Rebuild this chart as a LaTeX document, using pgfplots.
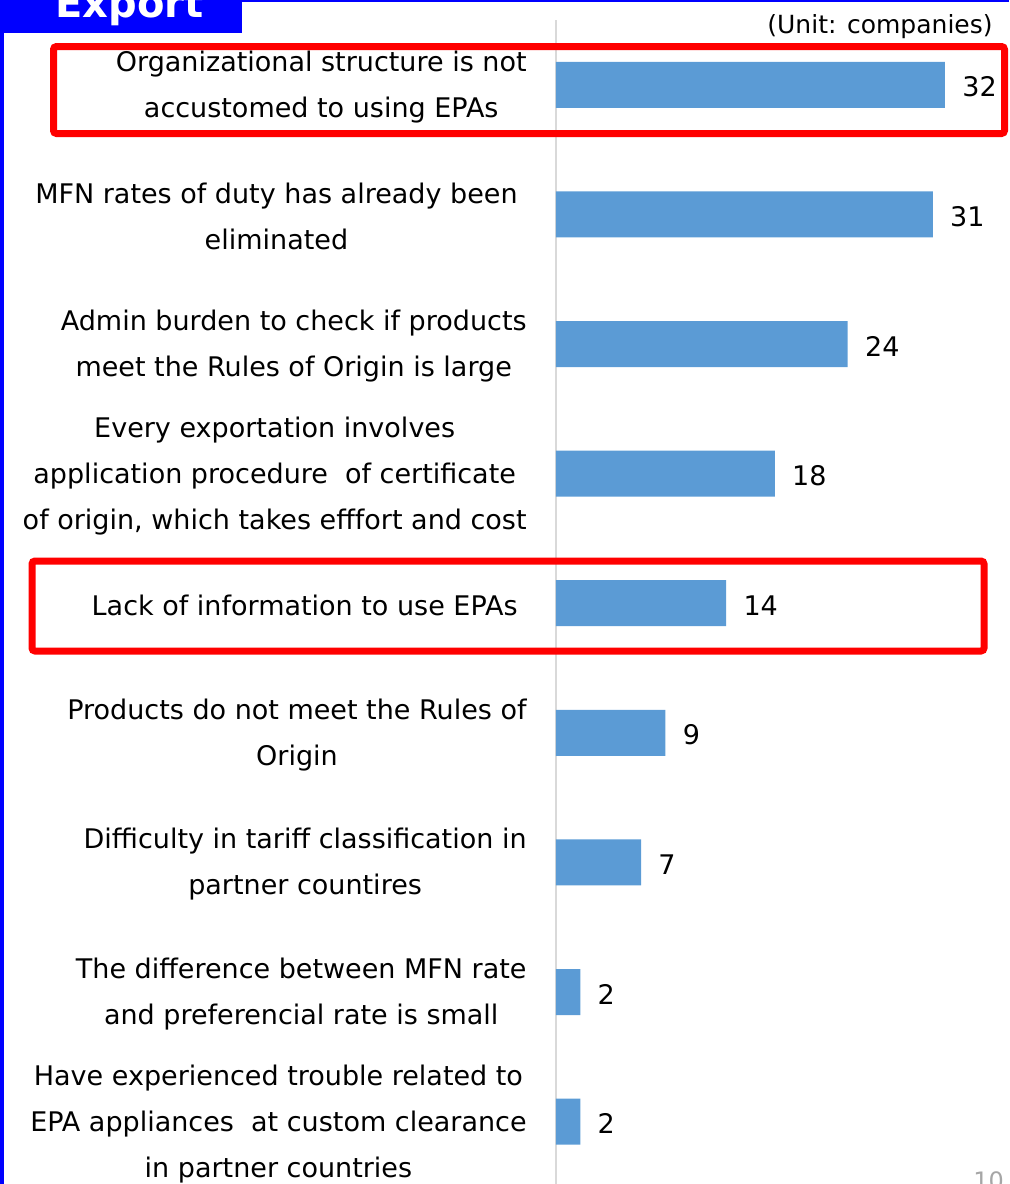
\documentclass[border=0pt]{standalone}
\usepackage{fontspec}
\setmainfont{DejaVu Sans}
\usepackage{pgfplots}
\pgfplotsset{compat=1.18}
\definecolor{barblue}{HTML}{5B9BD5}
\definecolor{axgray}{HTML}{D9D9D9}
\definecolor{slideblue}{HTML}{0000FF}
\definecolor{boxred}{HTML}{FF0000}
\begin{document}
\begin{tikzpicture}
\path[use as bounding box] (0,0) rectangle (504.5pt,-592pt);
\begin{axis}[
  at={(278pt,-10pt)}, anchor=north west,
  scale only axis, width=226.5pt, height=583.2pt,
  xbar, bar width=23pt,
  xmin=0, xmax=37.27, ymin=-0.5, ymax=8.5, y dir=reverse,
  axis lines*=left,
  x axis line style={draw=none},
  y axis line style={axgray, line width=1pt},
  xtick=\empty,
  ytick={0,1,2,3,4,5,6,7,8},
  major tick length=0pt,
  yticklabels={
    {Organizational structure is not\\accustomed to using EPAs},
    {MFN rates of duty has already been\hspace*{4.5pt}\\eliminated\hspace*{4.5pt}},
    {Admin burden to check if products\\meet the Rules of Origin is large},
    {Every exportation involves\\application procedure \ of certificate\\of origin, which takes efffort and cost},
    {Lack of information to use EPAs\hspace*{4.5pt}},
    {Products do not meet the Rules of\\Origin},
    {Difficulty in tariff classification in\\partner countires},
    {The difference between MFN rate\\and preferencial rate is small},
    {Have experienced trouble related to\\EPA appliances \ at custom clearance\\in partner countries}
  },
  yticklabel style={align=center, inner sep=0pt, xshift=-14.5pt, yshift=-1pt,
    font=\fontsize{13.5pt}{23pt}\selectfont},
  /pgf/number format/assume math mode=true,
  nodes near coords,
  nodes near coords style={font=\fontsize{13.5pt}{16pt}\selectfont,
    anchor=west, inner sep=0pt, xshift=8.5pt, yshift=-1pt},
]
\addplot[fill=barblue, draw=none] coordinates {
  (32,0) (31,1) (24,2) (18,3) (14,4) (9,5) (7,6) (2,7) (2,8)};
\end{axis}
% slide decorations
\fill[slideblue] (0,0) rectangle (121pt,-16.5pt);
\fill[slideblue] (0,0) rectangle (2pt,-592pt);
\fill[slideblue] (121pt,0) rectangle (504.5pt,-0.75pt);
\node[anchor=base west, inner sep=0pt, text=white,
  font=\bfseries\fontsize{20pt}{24pt}\selectfont] at (27.5pt,-8.5pt) {Export};
\node[anchor=base east, inner sep=0pt,
  font=\fontsize{12.5pt}{15pt}\selectfont] at (496.5pt,-16.5pt) {(Unit: companies)};
\draw[boxred, line width=3.5pt, rounded corners=1.5pt]
  (26.75pt,-23.25pt) rectangle (502.25pt,-66.75pt);
\draw[boxred, line width=3.5pt, rounded corners=1.5pt]
  (16pt,-280.5pt) rectangle (492pt,-325.5pt);
\node[anchor=base west, inner sep=0pt, text=gray!70,
  font=\fontsize{12pt}{14pt}\selectfont] at (486.5pt,-594.5pt) {10};
\end{tikzpicture}
\end{document}
